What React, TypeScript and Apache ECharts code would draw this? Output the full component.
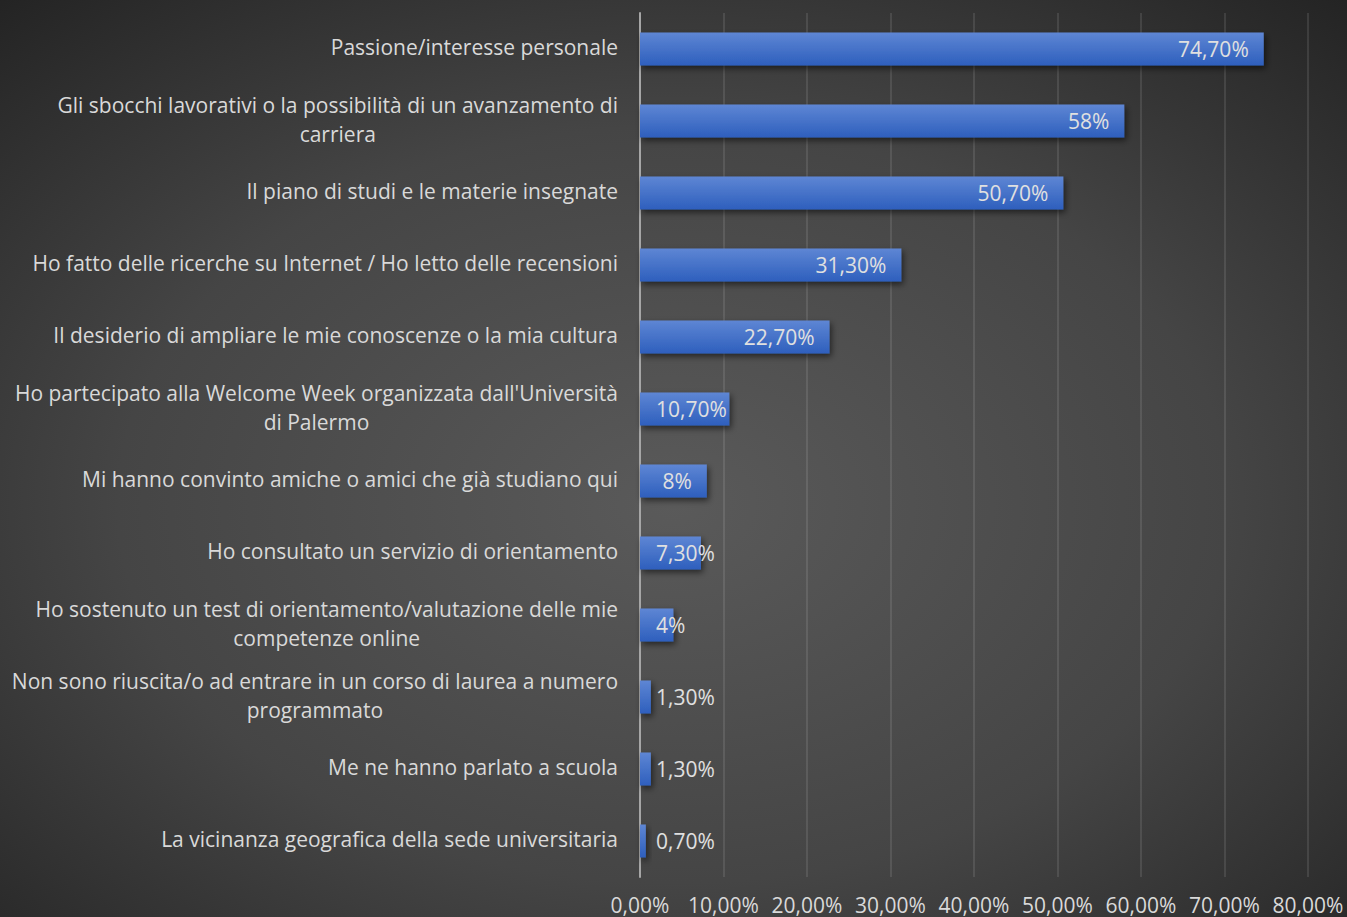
import React, { useEffect, useRef } from "react";
import * as echarts from "echarts";

const categories: string[] = [
  "Passione/interesse personale",
  "Gli sbocchi lavorativi o la possibilità di un avanzamento di\ncarriera",
  "Il piano di studi e le materie insegnate",
  "Ho fatto delle ricerche su Internet / Ho letto delle recensioni",
  "Il desiderio di ampliare le mie conoscenze o la mia cultura",
  "Ho partecipato alla Welcome Week organizzata dall'Università\ndi Palermo",
  "Mi hanno convinto amiche o amici che già studiano qui",
  "Ho consultato un servizio di orientamento",
  "Ho sostenuto un test di orientamento/valutazione delle mie\ncompetenze online",
  "Non sono riuscita/o ad entrare in un corso di laurea a numero\nprogrammato",
  "Me ne hanno parlato a scuola",
  "La vicinanza geografica della sede universitaria",
];

const values: number[] = [74.7, 58, 50.7, 31.3, 22.7, 10.7, 8, 7.3, 4, 1.3, 1.3, 0.7];

const xTicks: number[] = [0, 10, 20, 30, 40, 50, 60, 70, 80];

const FONT = "Open Sans";
const FS = 21;

function fmtValue(v: number): string {
  if (Number.isInteger(v)) return `${v}%`;
  return `${v.toFixed(2).replace(".", ",")}%`;
}

export default function App() {
  const ref = useRef<HTMLDivElement>(null);

  useEffect(() => {
    if (!ref.current) return;
    const chart = echarts.init(ref.current, null, { renderer: "svg" });

    const data = values.map((v) => {
      const insideLeft = v !== 8 && v < 20;
      return {
        value: v,
        label: {
          position: insideLeft ? "insideLeft" : "insideRight",
          distance: insideLeft ? 16 : 15,
        },
      };
    });

    chart.setOption({
      animation: false,
      backgroundColor: {
        type: "radial",
        x: 0.5,
        y: 0.55,
        r: 0.75,
        colorStops: [
          { offset: 0, color: "#5a5a5a" },
          { offset: 0.55, color: "#454545" },
          { offset: 1, color: "#232323" },
        ],
      },
      grid: { left: 640, right: 39, top: 13, bottom: 40, containLabel: false },
      xAxis: {
        type: "value",
        min: xTicks[0],
        max: xTicks[xTicks.length - 1],
        interval: 10,
        axisLine: { show: false },
        axisTick: { show: false },
        splitLine: { show: true, lineStyle: { color: "rgba(255,255,255,0.1)", width: 2 } },
        axisLabel: {
          color: "#d9d9d9",
          fontFamily: FONT,
          fontSize: FS,
          margin: 17,
          formatter: (v: number) => `${v.toFixed(2).replace(".", ",")}%`,
        },
      },
      yAxis: {
        type: "category",
        inverse: true,
        data: categories,
        axisLine: { show: true, lineStyle: { color: "#a6a6a6", width: 2 } },
        axisTick: { show: false },
        axisLabel: {
          color: "#d9d9d9",
          fontFamily: FONT,
          fontSize: FS,
          margin: 22,
          lineHeight: 29,
          padding: [0, 0, 4, 0],
          formatter: (s: string) =>
            s
              .split("\n")
              .map((l) => `{c|${l}}`)
              .join("\n"),
          rich: {
            c: {
              align: "center",
              color: "#d9d9d9",
              fontFamily: FONT,
              fontSize: FS,
              lineHeight: 29,
            },
          },
        },
      },
      series: [
        {
          type: "bar",
          data,
          barWidth: 33,
          itemStyle: {
            color: {
              type: "linear",
              x: 0,
              y: 0,
              x2: 0,
              y2: 1,
              colorStops: [
                { offset: 0, color: "#5e86d4" },
                { offset: 1, color: "#2e5fbd" },
              ],
            },
            shadowColor: "rgba(0,0,0,0.55)",
            shadowBlur: 6,
            shadowOffsetX: 2,
            shadowOffsetY: 3,
          },
          label: {
            show: true,
            color: "#e0e0e0",
            fontFamily: FONT,
            fontSize: FS,
            formatter: (p: any) => fmtValue(p.value),
          },
        },
      ],
    });

    return () => chart.dispose();
  }, []);

  return (
    <div
      ref={ref}
      style={{ position: "absolute", left: 0, top: 0, width: 1347, height: 917 }}
    />
  );
}
